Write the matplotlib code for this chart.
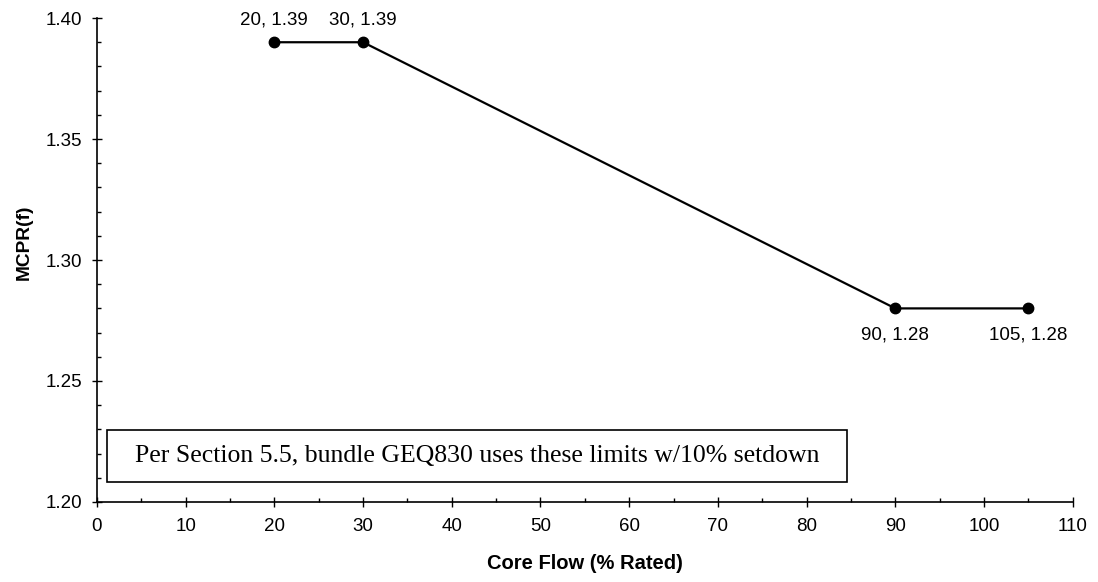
import matplotlib.pyplot as plt
from matplotlib.patches import Rectangle
from matplotlib.ticker import MultipleLocator

flow = [20, 30, 90, 105]
mcpr = [1.39, 1.39, 1.28, 1.28]
labels = ["20, 1.39", "30, 1.39", "90, 1.28", "105, 1.28"]
note = "Per Section 5.5, bundle GEQ830 uses these limits w/10% setdown"

plt.rcParams['font.family'] = ['Liberation Sans', 'DejaVu Sans']

fig = plt.figure(figsize=(10.98, 5.82), dpi=100)
ax = fig.add_axes([0.0883, 0.1375, 0.8887, 0.8315])

ax.plot(flow, mcpr, color='black', lw=1.6, marker='o', markersize=7.5)

# point labels: first two above, last two below
for i in range(len(flow)):
    if mcpr[i] > 1.3:
        ax.annotate(labels[i], (flow[i], mcpr[i]), xytext=(0, 10),
                    textcoords='offset points', ha='center', va='bottom', fontsize=13.5)
    else:
        ax.annotate(labels[i], (flow[i], mcpr[i]), xytext=(0, -13),
                    textcoords='offset points', ha='center', va='top', fontsize=13.5)

ax.set_xlim(0, 110)
ax.set_ylim(1.20, 1.40)
ax.xaxis.set_major_locator(MultipleLocator(10))
ax.xaxis.set_minor_locator(MultipleLocator(5))
ax.yaxis.set_major_locator(MultipleLocator(0.05))
ax.yaxis.set_minor_locator(MultipleLocator(0.01))
ax.yaxis.set_major_formatter(lambda v, p: "%.2f" % v)
ax.tick_params(which='major', direction='inout', length=7, width=1, labelsize=13.5)
ax.tick_params(axis='x', which='major', pad=8)
ax.tick_params(axis='y', which='major', pad=7)
ax.tick_params(which='minor', direction='in', length=3, width=1)

for s in ['top', 'right']:
    ax.spines[s].set_visible(False)
for s in ['left', 'bottom']:
    ax.spines[s].set_linewidth(1.2)

ax.set_xlabel('Core Flow (% Rated)', fontsize=14.5, fontweight='bold', labelpad=14)
ax.set_ylabel('MCPR(f)', fontsize=13.8, fontweight='bold', labelpad=10)
ax.yaxis.set_label_coords(-0.066, 0.537)

# note box
ax.add_patch(Rectangle((1.13, 1.2083), 83.4, 0.0215, fill=False, edgecolor='black', lw=1.2))
ax.text(1.13 + 83.4 / 2, 1.2083 + 0.0215 / 2, note, ha='center', va='center',
        fontsize=18.5, family=['Liberation Serif', 'DejaVu Serif'])

plt.savefig("out.png")
